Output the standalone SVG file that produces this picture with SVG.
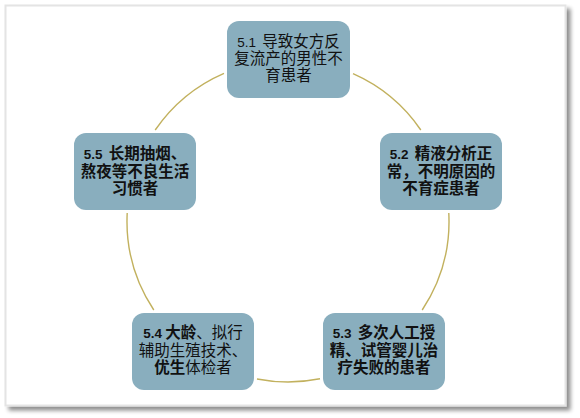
<svg xmlns="http://www.w3.org/2000/svg" width="580" height="418" viewBox="0 0 580 418">
  <defs>
    <filter id="frameShadow" x="-5%" y="-5%" width="115%" height="115%">
      <feGaussianBlur in="SourceAlpha" stdDeviation="2"/>
      <feOffset dx="4" dy="4" result="b"/>
      <feComponentTransfer><feFuncA type="linear" slope="0.45"/></feComponentTransfer>
      <feMerge><feMergeNode/><feMergeNode in="SourceGraphic"/></feMerge>
    </filter>
  </defs>
  <style>
    .box { fill: #89aebe; }
    .arc { fill: none; stroke: #c2b15e; stroke-width: 1.4; }
    .t { font-family: "Liberation Sans", "Noto Sans CJK SC", sans-serif; font-size: 15.5px; fill: #111; text-anchor: middle; }
    .b { font-weight: bold; }
    .n { font-size: 13.5px; }
  </style>
  <rect width="580" height="418" fill="#ffffff"/>
  <rect x="5.5" y="5.5" width="560" height="400" fill="#ffffff" stroke="#e4e4e4" stroke-width="2" filter="url(#frameShadow)"/>

  <g id="connectors">
    <path class="arc" d="M353,73.7 A161,161 0 0 1 420.8,130"/>
    <path class="arc" d="M448.8,213 A161,161 0 0 1 422.2,310"/>
    <path class="arc" d="M320,378.8 A161,161 0 0 1 257,379"/>
    <path class="arc" d="M153.8,310 A161,161 0 0 1 127.2,213"/>
    <path class="arc" d="M155.2,130 A161,161 0 0 1 224,73.3"/>
  </g>

  <g id="node-5-1">
    <rect class="box" x="227" y="21" width="123" height="77" rx="12"/>
    <text class="t" x="288.5" y="47"><tspan class="n">5.1</tspan><tspan dx="6">导致女方反</tspan></text>
    <text class="t" x="288.5" y="64">复流产的男性不</text>
    <text class="t" x="288.5" y="81">育患者</text>
  </g>

  <g id="node-5-2">
    <rect class="box" x="380" y="133" width="122" height="77" rx="12"/>
    <text class="t b" x="441" y="159"><tspan class="n">5.2</tspan><tspan dx="6">精液分析正</tspan></text>
    <text class="t b" x="441" y="176.5">常，不明原因的</text>
    <text class="t b" x="441" y="194">不育症患者</text>
  </g>

  <g id="node-5-3">
    <rect class="box" x="323" y="313" width="122" height="77" rx="12"/>
    <text class="t b" x="384" y="338"><tspan class="n">5.3</tspan><tspan dx="6">多次人工授</tspan></text>
    <text class="t b" x="384" y="355.5">精、试管婴儿治</text>
    <text class="t b" x="384" y="373">疗失败的患者</text>
  </g>

  <g id="node-5-4">
    <rect class="box" x="132" y="313" width="122" height="77" rx="12"/>
    <text class="t" x="193" y="338"><tspan class="n b">5.4</tspan><tspan class="b" dx="3">大龄</tspan>、拟行</text>
    <text class="t" x="193" y="355.5">辅助生殖技术、</text>
    <text class="t" x="193" y="373"><tspan class="b">优生</tspan>体检者</text>
  </g>

  <g id="node-5-5">
    <rect class="box" x="74" y="133" width="122" height="77" rx="12"/>
    <text class="t b" x="135" y="159"><tspan class="n">5.5</tspan><tspan dx="6">长期抽烟、</tspan></text>
    <text class="t b" x="135" y="176.5">熬夜等不良生活</text>
    <text class="t b" x="135" y="194">习惯者</text>
  </g>
</svg>
